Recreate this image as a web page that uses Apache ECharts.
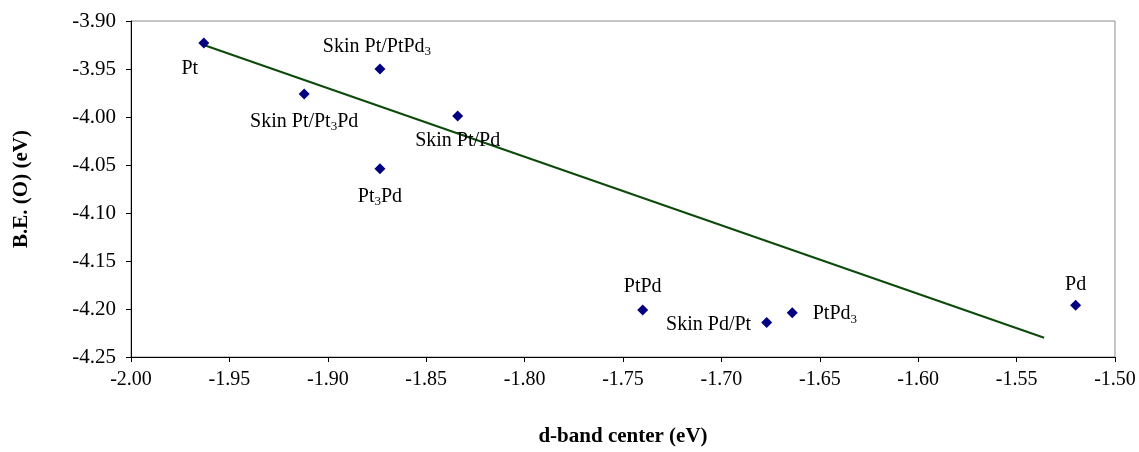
<!DOCTYPE html>
<html><head><meta charset="utf-8">
<script src="https://cdn.jsdelivr.net/npm/echarts@6/dist/echarts.min.js"></script>
<style>html,body{margin:0;padding:0;background:#fff}#c{width:1139px;height:452px}</style>
</head><body><div id="c"></div>
<script>
const names = ["Pt","Skin Pt/Pt3Pd","Skin Pt/PtPd3","Skin Pt/Pd","Pt3Pd","PtPd","Skin Pd/Pt","PtPd3","Pd"];
const dBand = [-1.963,-1.912,-1.8735,-1.834,-1.8735,-1.740,-1.677,-1.664,-1.520];
const bindingO = [-3.923,-3.976,-3.950,-3.999,-4.054,-4.201,-4.214,-4.204,-4.196];
const trendX = [-1.963,-1.536];
const trendY = [-3.925,-4.230];
const xTicks = ["-2.00","-1.95","-1.90","-1.85","-1.80","-1.75","-1.70","-1.65","-1.60","-1.55","-1.50"];
const yTicks = ["-3.90","-3.95","-4.00","-4.05","-4.10","-4.15","-4.20","-4.25"];

const labelPlace = {
  "Pt": {position:'bottom', offset:[-14,4]},
  "Skin Pt/Pt3Pd": {position:'bottom', offset:[0,6]},
  "Skin Pt/PtPd3": {position:'top', offset:[-3,-1]},
  "Skin Pt/Pd": {position:'bottom', offset:[0,3]},
  "Pt3Pd": {position:'bottom', offset:[0,6]},
  "PtPd": {position:'top', offset:[0,-2]},
  "Skin Pd/Pt": {position:'left', offset:[-5,2]},
  "PtPd3": {position:'right', offset:[10,1]},
  "Pd": {position:'top', offset:[0,1]}
};
const serif = '"Liberation Serif","DejaVu Serif",serif';
const fmtName = n => ('{n|' + n.replace(/(\d)/g, '}{s|$1}{n|') + '}').replace(/\{n\|\}/g,'');
const points = names.map((n,i) => ({
  value:[dBand[i], bindingO[i]], name:n,
  label:Object.assign({show:true, formatter: fmtName(n)}, labelPlace[n])
}));

const chart = echarts.init(document.getElementById('c'), null, {renderer:'canvas'});
chart.setOption({
  animation:false,
  grid:{left:131, right:24, top:21, bottom:91, show:true, borderColor:'#8c8c8c', borderWidth:1},
  xAxis:{type:'value', min:-2.0, max:-1.5, interval:0.05,
    name:'d-band center (eV)', nameLocation:'middle', nameGap:69,
    nameTextStyle:{fontFamily:serif, fontWeight:'bold', fontSize:21, color:'#000'},
    axisLine:{show:true, onZero:false, lineStyle:{color:'#000', width:1}},
    axisTick:{show:true, length:5, inside:false, lineStyle:{color:'#000'}},
    splitLine:{show:false},
    axisLabel:{fontFamily:serif, fontSize:20, color:'#000', margin:13,
      formatter:(v)=>xTicks[Math.round((v+2.0)/0.05)]}
  },
  yAxis:{type:'value', min:-4.25, max:-3.90, interval:0.05,
    name:'B.E. (O) (eV)', nameLocation:'middle', nameGap:99, nameRotate:90,
    nameTextStyle:{fontFamily:serif, fontWeight:'bold', fontSize:21, color:'#000'},
    axisLine:{show:true, onZero:false, lineStyle:{color:'#000', width:1}},
    axisTick:{show:true, length:5, lineStyle:{color:'#000'}},
    splitLine:{show:false},
    axisLabel:{fontFamily:serif, fontSize:21, color:'#000', margin:15,
      formatter:(v)=>yTicks[Math.round((-3.90-v)/0.05)]}
  },
  series:[
    {type:'line', data:trendX.map((x,i)=>[x,trendY[i]]), symbol:'none',
      lineStyle:{color:'#0b4a0b', width:2}, z:1, silent:true},
    {type:'scatter', data:points, symbol:'diamond', symbolSize:11,
      itemStyle:{color:'#000080', opacity:1}, z:3,
      label:{fontFamily:serif, color:'#000',
        rich:{n:{fontFamily:serif, fontSize:20, color:'#000', lineHeight:22},
              s:{fontFamily:serif, fontSize:13, color:'#000', lineHeight:22, padding:[11,0,0,0]}}}}
  ]
});
</script></body></html>
